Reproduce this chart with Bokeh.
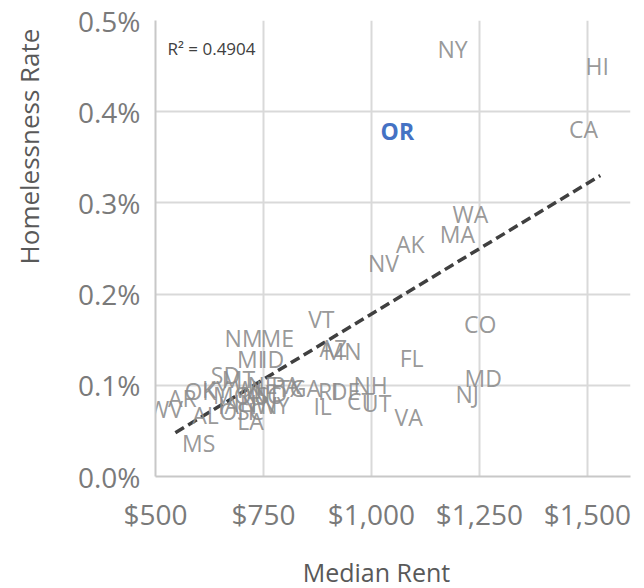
import math
from bokeh.plotting import figure
from bokeh.models import ColumnDataSource, NumeralTickFormatter, Label, FixedTicker, Range1d
from bokeh.core.properties import value
from bokeh.embed import file_html
from bokeh.resources import INLINE

# ---- data ----
states = ["NY", "HI", "OR", "CA", "WA", "MA", "AK", "NV", "CO", "FL",
          "MD", "NJ", "VA", "VT", "AZ", "MN", "NH", "UT", "CT", "DE",
          "RI", "IL", "GA", "PA", "TX", "NM", "ME", "MI", "ID", "SD",
          "WV", "AR", "MS", "AL", "LA", "OK", "KY", "MO", "MT", "IA",
          "IN", "KS", "OH", "TN", "NC", "SC", "WI", "NE", "ND", "WY"]
median_rent = [1188, 1523, 1060, 1491, 1229, 1199, 1090, 1028, 1252, 1093,
               1259, 1222, 1086, 884, 912, 933, 998, 1012, 975, 940,
               900, 887, 847, 801, 812, 704, 782, 720, 771, 662,
               523, 562, 600, 616, 720, 604, 639, 678, 692, 669,
               708, 731, 688, 748, 755, 720, 715, 748, 766, 771]
homeless_rate = [0.00469, 0.00450, 0.00379, 0.00381, 0.00288, 0.00266, 0.00255, 0.00234, 0.00167, 0.00130,
                 0.00108, 0.00091, 0.00065, 0.00173, 0.00141, 0.00138, 0.00100, 0.00081, 0.00083, 0.00094,
                 0.00094, 0.00077, 0.00097, 0.00100, 0.00097, 0.00152, 0.00152, 0.00129, 0.00129, 0.00111,
                 0.00074, 0.00086, 0.00037, 0.00067, 0.00061, 0.00094, 0.00096, 0.00089, 0.00107, 0.00078,
                 0.00081, 0.00089, 0.00072, 0.00078, 0.00089, 0.00072, 0.00096, 0.00100, 0.00092, 0.00078]
highlight_state = "OR"
trend_rent = [546, 1530]
trend_slope = 2.866e-6
trend_intercept = -0.001085
r_squared_text = "R\u00b2 = 0.4904"
x_ticks = [500, 750, 1000, 1250, 1500]
y_ticks = [0.0, 0.001, 0.002, 0.003, 0.004, 0.005]

# ---- figure ----
p = figure(width=644, height=588, output_backend="svg", toolbar_location=None,
           x_range=Range1d(500, 1600), y_range=Range1d(0, 0.005),
           min_border_left=155, min_border_right=14, min_border_top=20, min_border_bottom=112)
p.outline_line_color = None
p.background_fill_color = "white"
p.border_fill_color = "white"

grid_col = "#d9d9d9"
for g in (p.xgrid, p.ygrid):
    g.grid_line_color = grid_col
    g.grid_line_width = 2
p.xaxis.ticker = FixedTicker(ticks=x_ticks)
p.yaxis.ticker = FixedTicker(ticks=y_ticks)
p.xaxis.formatter = NumeralTickFormatter(format="$0,0")
p.yaxis.formatter = NumeralTickFormatter(format="0.0%")
for ax in (p.xaxis, p.yaxis):
    ax.axis_line_color = "#c8c8c8"
    ax.axis_line_width = 2
    ax.major_tick_line_color = None
    ax.minor_tick_line_color = None
    ax.major_tick_out = 0
    ax.major_tick_in = 0
    ax.minor_tick_out = 0
    ax.minor_tick_in = 0
    ax.major_label_text_font = "Open Sans"
    ax.major_label_text_font_size = "28px"
    ax.major_label_text_color = "#7a7a7a"
p.yaxis.major_label_standoff = 15
p.xaxis.major_label_standoff = 18

# trend line
trend_vals = [trend_slope * r + trend_intercept for r in trend_rent]
p.line(trend_rent, trend_vals, line_color="#404040", line_width=3.5, line_dash="10 5")

# state labels
norm = [i for i, s in enumerate(states) if s != highlight_state]
hi = [i for i, s in enumerate(states) if s == highlight_state]
src = ColumnDataSource(dict(x=[median_rent[i] for i in norm], y=[homeless_rate[i] for i in norm],
                            t=[states[i] for i in norm]))
src_hi = ColumnDataSource(dict(x=[median_rent[i] for i in hi], y=[homeless_rate[i] for i in hi],
                               t=[states[i] for i in hi]))
p.text(x="x", y="y", text="t", source=src, text_align="center", text_baseline="middle",
       text_font=value("Open Sans"), text_font_size="23px", text_color="#8c8c8c", text_alpha=0.9)
p.text(x="x", y="y", text="t", source=src_hi, text_align="center", text_baseline="middle",
       text_font=value("Open Sans"), text_font_size="23px", text_color="#4472C4", text_font_style="bold")

# R^2 label
p.add_layout(Label(x=12, y=428, x_units="screen", y_units="screen", text=r_squared_text,
                   text_font="Open Sans", text_font_size="17px", text_color="#404040",
                   text_baseline="middle", text_align="left"))

# axis titles placed in side panels
p.add_layout(Label(x=-10, y=330, x_units="screen", y_units="screen", text="Homelessness Rate",
                   angle=math.pi / 2, text_font="Open Sans", text_font_size="26px",
                   text_color="#595959", text_align="center", text_baseline="middle"), "left")
p.add_layout(Label(x=221, y=-2, x_units="screen", y_units="screen", text="Median Rent",
                   text_font="Open Sans", text_font_size="25px", text_line_height=0.5,
                   text_color="#595959", text_align="center", text_baseline="middle"), "below")

open("out.html", "w").write(file_html(p, INLINE))
